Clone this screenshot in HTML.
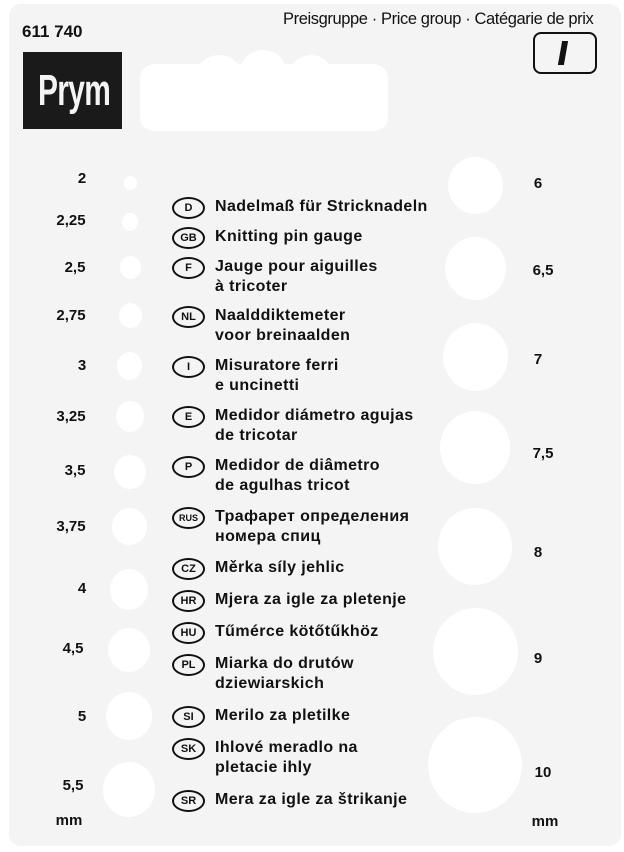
<!DOCTYPE html>
<html><head><meta charset="utf-8"><style>
body{margin:0;width:624px;height:852px;background:#fff;position:relative;overflow:hidden;font-family:"Liberation Sans Narrow","Liberation Sans",sans-serif;color:#111}
.card{position:absolute;left:9px;top:4px;width:612px;height:842px;background:#f4f4f4;border-radius:12px}
.h{position:absolute;background:#fff;border-radius:50%}
.t{position:absolute;font-weight:bold;font-size:16px;letter-spacing:0.4px;line-height:20px;white-space:nowrap}
.n{position:absolute;font-weight:bold;font-family:"Liberation Sans",sans-serif;font-size:15px;width:50px;text-align:center}
.b{position:absolute;left:172px;width:29px;height:18px;border:2px solid #111;border-radius:50%;font-family:"Liberation Sans",sans-serif;font-weight:bold;font-size:11px;line-height:19px;text-align:center;box-sizing:content-box}
</style></head><body>
<div class="card"></div>
<div style="position:absolute;left:22px;top:22px;font:bold 17px 'Liberation Sans',sans-serif">611 740</div>
<div style="position:absolute;left:283px;top:10px;font:16.5px 'Liberation Sans',sans-serif;letter-spacing:-0.4px;white-space:nowrap">Preisgruppe · Price group · Catégarie de prix</div>
<div style="position:absolute;left:533px;top:32px;width:60px;height:38px;border:2px solid #111;border-radius:8px"></div>
<div style="position:absolute;left:560px;top:41px;width:6px;height:24px;background:#111;transform:skewX(-10deg)"></div>
<div style="position:absolute;left:23px;top:52px;width:99px;height:77px;background:#1a1a1a"></div>
<div style="position:absolute;left:38px;top:66px;font:bold 44px 'Liberation Sans',sans-serif;color:#f4f4f4;transform:scaleX(0.68);transform-origin:left top;letter-spacing:-1px;white-space:nowrap">Prym</div>
<div class="h" style="left:140px;top:64px;width:248px;height:67px;border-radius:14px"></div>
<div class="h" style="left:197px;top:55px;width:44px;height:38px"></div>
<div class="h" style="left:241px;top:50px;width:44px;height:38px"></div>
<div class="h" style="left:290px;top:55px;width:42px;height:38px"></div>
<!-- left holes -->
<div class="h" style="left:124px;top:176px;width:13px;height:14px"></div>
<div class="h" style="left:122px;top:213px;width:16px;height:18px"></div>
<div class="h" style="left:120px;top:256px;width:21px;height:23px"></div>
<div class="h" style="left:119px;top:303px;width:23px;height:25px"></div>
<div class="h" style="left:117px;top:352px;width:25px;height:28px"></div>
<div class="h" style="left:116px;top:401px;width:28px;height:31px"></div>
<div class="h" style="left:114px;top:455px;width:32px;height:34px"></div>
<div class="h" style="left:112px;top:508px;width:35px;height:37px"></div>
<div class="h" style="left:110px;top:569px;width:38px;height:41px"></div>
<div class="h" style="left:108px;top:628px;width:42px;height:44px"></div>
<div class="h" style="left:106px;top:692px;width:46px;height:48px"></div>
<div class="h" style="left:103px;top:762px;width:52px;height:55px"></div>
<!-- right holes -->
<div class="h" style="left:448px;top:157px;width:55px;height:57px"></div>
<div class="h" style="left:445px;top:237px;width:61px;height:63px"></div>
<div class="h" style="left:443px;top:323px;width:65px;height:68px"></div>
<div class="h" style="left:440px;top:411px;width:70px;height:73px"></div>
<div class="h" style="left:438px;top:508px;width:74px;height:77px"></div>
<div class="h" style="left:433px;top:608px;width:85px;height:87px"></div>
<div class="h" style="left:428px;top:717px;width:94px;height:96px"></div>
<!-- left numbers -->
<div class="n" style="left:57px;top:170px">2</div>
<div class="n" style="left:46px;top:212px">2,25</div>
<div class="n" style="left:50px;top:259px">2,5</div>
<div class="n" style="left:46px;top:307px">2,75</div>
<div class="n" style="left:57px;top:357px">3</div>
<div class="n" style="left:46px;top:408px">3,25</div>
<div class="n" style="left:50px;top:462px">3,5</div>
<div class="n" style="left:46px;top:518px">3,75</div>
<div class="n" style="left:57px;top:580px">4</div>
<div class="n" style="left:48px;top:640px">4,5</div>
<div class="n" style="left:57px;top:708px">5</div>
<div class="n" style="left:48px;top:777px">5,5</div>
<div class="n" style="left:44px;top:812px">mm</div>
<!-- right numbers -->
<div class="n" style="left:513px;top:175px">6</div>
<div class="n" style="left:518px;top:262px">6,5</div>
<div class="n" style="left:513px;top:351px">7</div>
<div class="n" style="left:518px;top:445px">7,5</div>
<div class="n" style="left:513px;top:544px">8</div>
<div class="n" style="left:513px;top:650px">9</div>
<div class="n" style="left:518px;top:764px">10</div>
<div class="n" style="left:520px;top:813px">mm</div>
<!-- badges + text -->
<div class="b" style="top:197px">D</div><div class="t" style="left:215px;top:197px">Nadelmaß für Stricknadeln</div>
<div class="b" style="top:227px">GB</div><div class="t" style="left:215px;top:227px">Knitting pin gauge</div>
<div class="b" style="top:257px">F</div><div class="t" style="left:215px;top:257px">Jauge pour aiguilles<br>à tricoter</div>
<div class="b" style="top:306px">NL</div><div class="t" style="left:215px;top:306px">Naalddiktemeter<br>voor breinaalden</div>
<div class="b" style="top:356px">I</div><div class="t" style="left:215px;top:356px">Misuratore ferri<br>e uncinetti</div>
<div class="b" style="top:406px">E</div><div class="t" style="left:215px;top:406px">Medidor diámetro agujas<br>de tricotar</div>
<div class="b" style="top:456px">P</div><div class="t" style="left:215px;top:456px">Medidor de diâmetro<br>de agulhas tricot</div>
<div class="b" style="top:507px;font-size:9px">RUS</div><div class="t" style="left:215px;top:507px">Трафарет определения<br>номера спиц</div>
<div class="b" style="top:558px">CZ</div><div class="t" style="left:215px;top:558px">Měrka síly jehlic</div>
<div class="b" style="top:590px">HR</div><div class="t" style="left:215px;top:590px">Mjera za igle za pletenje</div>
<div class="b" style="top:622px">HU</div><div class="t" style="left:215px;top:622px">Tűmérce kötőtűkhöz</div>
<div class="b" style="top:654px">PL</div><div class="t" style="left:215px;top:654px">Miarka do drutów<br>dziewiarskich</div>
<div class="b" style="top:706px">SI</div><div class="t" style="left:215px;top:706px">Merilo za pletilke</div>
<div class="b" style="top:738px">SK</div><div class="t" style="left:215px;top:738px">Ihlové meradlo na<br>pletacie ihly</div>
<div class="b" style="top:790px">SR</div><div class="t" style="left:215px;top:790px">Mera za igle za štrikanje</div>
</body></html>
